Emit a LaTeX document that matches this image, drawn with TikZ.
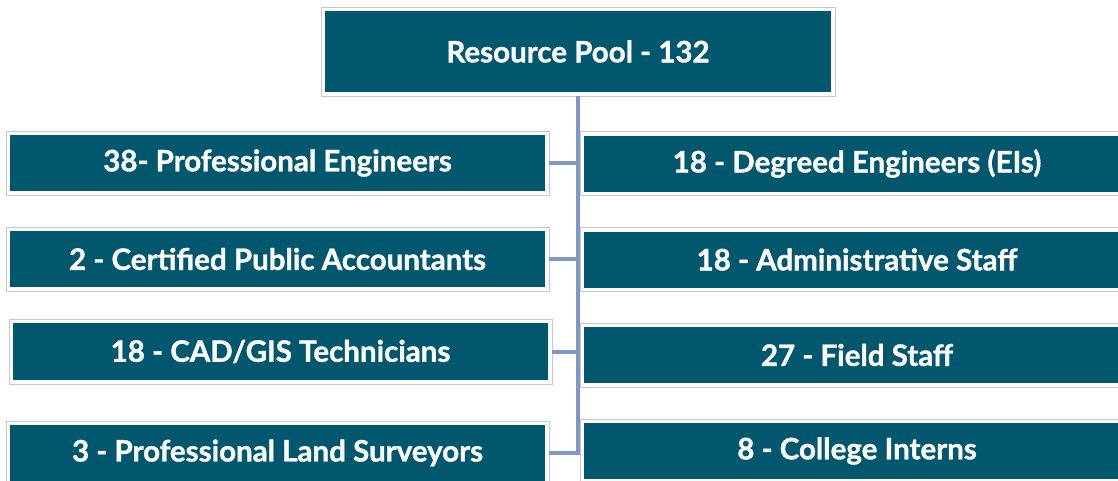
\documentclass[tikz,border=0pt]{standalone}
\usepackage{fontspec}
\setmainfont{Lato}[BoldFeatures={FakeBold=1.2}]
\definecolor{poolteal}{RGB}{0,87,110}
\definecolor{framegray}{RGB}{200,200,200}
\definecolor{linkblue}{RGB}{126,152,200}

\tikzset{
	unit/.style={draw=framegray, fill=white, line width=0.8pt, minimum height=64, inner sep=0pt,
		text=white, font=\bfseries\fontsize{29.5}{33}\selectfont,
		path picture={\fill[poolteal] ([shift={(4pt,-4pt)}]path picture bounding box.north west)
			rectangle ([shift={(-4pt,4pt)}]path picture bounding box.south east);}},
	link/.style={draw=linkblue, line width=4pt}
}

\begin{document}
\begin{tikzpicture}[x=1pt, y=-1pt]

	\clip (0,0) rectangle (1118,480);

	\node[unit, minimum width=514, minimum height=89] (pool) at (578, 51.5) {Resource Pool - 132};

	% left column
	\node[unit, minimum width=543] (pe)  at (277.5, 163) {38- Professional Engineers};
	\node[unit, minimum width=543] (cpa) at (277.5, 259) {2 - Certified Public Accountants};
	\node[unit, minimum width=543, minimum height=65] (cad) at (280.5, 351.5) {18 - CAD/GIS Technicians};
	\node[unit, minimum width=543] (pls) at (277.5, 453) {3 - Professional Land Surveyors};

	% right column
	\node[unit, minimum width=554] (ei)    at (857, 163.5) {18 - Degreed Engineers (EIs)};
	\node[unit, minimum width=554] (admin) at (857, 259.5) {18 - Administrative Staff};
	\node[unit, minimum width=554] (field) at (857, 355) {27 - Field Staff};
	\node[unit, minimum width=554] (intern) at (857, 451) {8 - College Interns};

	\draw[link] (pls.east) -| (pool.south);
	\draw[link] (pe.east) -- (pe.east -| pool.south);
	\draw[link] (cpa.east) -- (cpa.east -| pool.south);
	\draw[link] (cad.east) -- (cad.east -| pool.south);

\end{tikzpicture}
\end{document}
